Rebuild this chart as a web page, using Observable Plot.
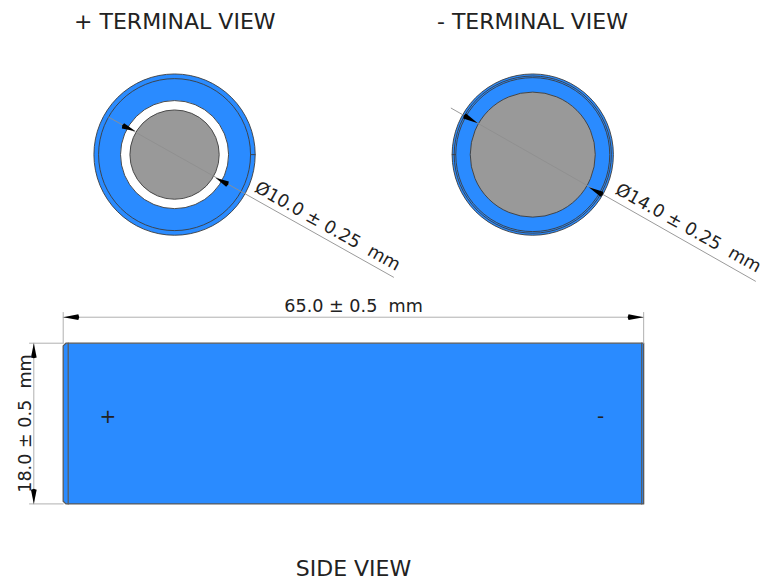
<!DOCTYPE html>
<html>
<head>
<meta charset="utf-8">
<style>html,body{margin:0;padding:0;background:#fff}svg{display:block}</style>
<script src="https://cdn.jsdelivr.net/npm/d3@7"></script>
<script src="https://cdn.jsdelivr.net/npm/@observablehq/plot@0.6"></script>
</head>
<body>
<script>
// All geometry is in millimetres on the drawing; origin = top-left corner of the side view.
const plusCenter = [12.47, -21.12];
const minusCenter = [52.58, -21.12];
const plusRings = [
  {r: 9.03, kind: "blue"}, {r: 8.51, kind: "line"}, {r: 6.05, kind: "white"}, {r: 5.0, kind: "gray"}
];
const minusRings = [
  {r: 9.03, kind: "blue"}, {r: 8.8, kind: "line"}, {r: 8.62, kind: "line"}, {r: 7.0, kind: "gray"}
];
const bodyOutline = [[0.3,0],[65,0],[65,18],[0.3,18],[0,17.7],[0,0.3]];
const capLines = [[[0.56,0],[0.56,18]], [[64.78,0],[64.78,18]]];
const rimTicks = [[[21.0,-21.12],[21.5,-21.12]], [[43.56,-21.12],[43.93,-21.12]]];
const leaders = [[[5.10,-25.31],[36.99,-7.39]], [[43.45,-26.32],[77.52,-6.94]]];
const dimLines = [
  [[0,-2.91],[65,-2.91]], [[-3.29,0],[-3.29,18]],
  [[0,-3.44],[0,0]], [[65,-3.44],[65,0]],
  [[-3.77,0],[0,0]], [[-3.77,18],[0,18]]
];
// [tip, tail] of every arrowhead
const arrows = [
  [[8.10,-23.74],[6.61,-24.38]], [[17.05,-18.52],[18.48,-17.77]],
  [[46.43,-24.64],[44.86,-25.50]], [[58.86,-17.47],[60.42,-16.62]],
  [[0,-2.91],[1.8,-2.91]], [[65,-2.91],[63.2,-2.91]],
  [[-3.29,0],[-3.29,1.7]], [[-3.29,18],[-3.29,16.3]]
];
const labels = [
  {x:12.5, y:-36.0, t:"+ TERMINAL VIEW", rot:0, kind:"title"},
  {x:52.55, y:-36.0, t:"- TERMINAL VIEW", rot:0, kind:"title"},
  {x:32.51, y:25.3, t:"SIDE VIEW", rot:0, kind:"title"},
  {x:32.51, y:-4.11, t:"65.0 ± 0.5  mm", rot:0, kind:"dim"},
  {x:-4.22, y:9.0, t:"18.0 ± 0.5  mm", rot:-90, kind:"dim"},
  {x:29.6, y:-13.1, t:"Ø10.0 ± 0.25  mm", rot:29.3, kind:"dim"},
  {x:70.0, y:-12.9, t:"Ø14.0 ± 0.25  mm", rot:29.3, kind:"dim"},
  {x:5.0, y:8.26, t:"+", rot:0, kind:"sign"},
  {x:60.17, y:8.26, t:"-", rot:0, kind:"sign"}
];

const BLUE = "#2a8bff", GRAY = "#999999", EDGE = "#3c3c3c", DIM = "#b0b0b0";
const FONT = "'DejaVu Sans', sans-serif";
const fontSizes = {title: 22, dim: 17.6, sign: 20};
const ringStyle = {
  blue: {fill: BLUE, stroke: EDGE}, line: {fill: "none", stroke: EDGE},
  white: {fill: "#ffffff", stroke: EDGE}, gray: {fill: GRAY, stroke: EDGE}
};
const ringMarks = (center, rings) => rings.map(d =>
  Plot.dot([{x: center[0], y: center[1], r: d.r}], {x: "x", y: "y", r: "r", strokeWidth: 0.9, ...ringStyle[d.kind]}));
const segs = (list) => list.flatMap((s, i) => s.map(p => ({x: p[0], y: p[1], i})));
const heads = arrows.flatMap(([tip, tail], i) => {
  const dx = tail[0]-tip[0], dy = tail[1]-tip[1], l = Math.hypot(dx,dy), w = 0.32;
  const nx = -dy/l*w, ny = dx/l*w;
  return [tip, [tip[0]+dx*0.94+nx, tip[1]+dy*0.94+ny], tail, [tip[0]+dx*0.94-nx, tip[1]+dy*0.94-ny]]
    .map(p => ({x: p[0], y: p[1], i}));
});

const chart = Plot.plot({
  width: 774, height: 581, margin: 0,
  style: {background: "#fff"},
  x: {domain: [-7.02, 79.65], range: [0, 774], axis: null},
  y: {domain: [-38.38, 26.69], range: [0, 581], axis: null},
  r: {type: "linear", domain: [0, 10], range: [0, 89.3]},
  marks: [
    ...ringMarks(plusCenter, plusRings),
    ...ringMarks(minusCenter, minusRings),
    Plot.line(segs(rimTicks), {x: "x", y: "y", z: "i", stroke: EDGE, strokeWidth: 0.9}),
    Plot.line(bodyOutline.concat([bodyOutline[0]]), {x: d => d[0], y: d => d[1], fill: BLUE, stroke: "#5a5a5a", strokeWidth: 1.3}),
    Plot.line(segs(capLines), {x: "x", y: "y", z: "i", stroke: "#5a5a5a", strokeWidth: 1.2}),
    Plot.line(segs(leaders), {x: "x", y: "y", z: "i", stroke: "#8f8f8f", strokeWidth: 0.9}),
    Plot.line(segs(dimLines), {x: "x", y: "y", z: "i", stroke: DIM, strokeWidth: 1}),
    Plot.line(heads, {x: "x", y: "y", z: "i", fill: "#000", stroke: "none"}),
    Plot.text(labels, {x: "x", y: "y", text: "t", rotate: "rot", fontSize: d => fontSizes[d.kind], fontFamily: FONT, fill: "#222", textAnchor: "middle", lineAnchor: "middle"})
  ]
});
document.body.appendChild(chart);
</script>
</body>
</html>
